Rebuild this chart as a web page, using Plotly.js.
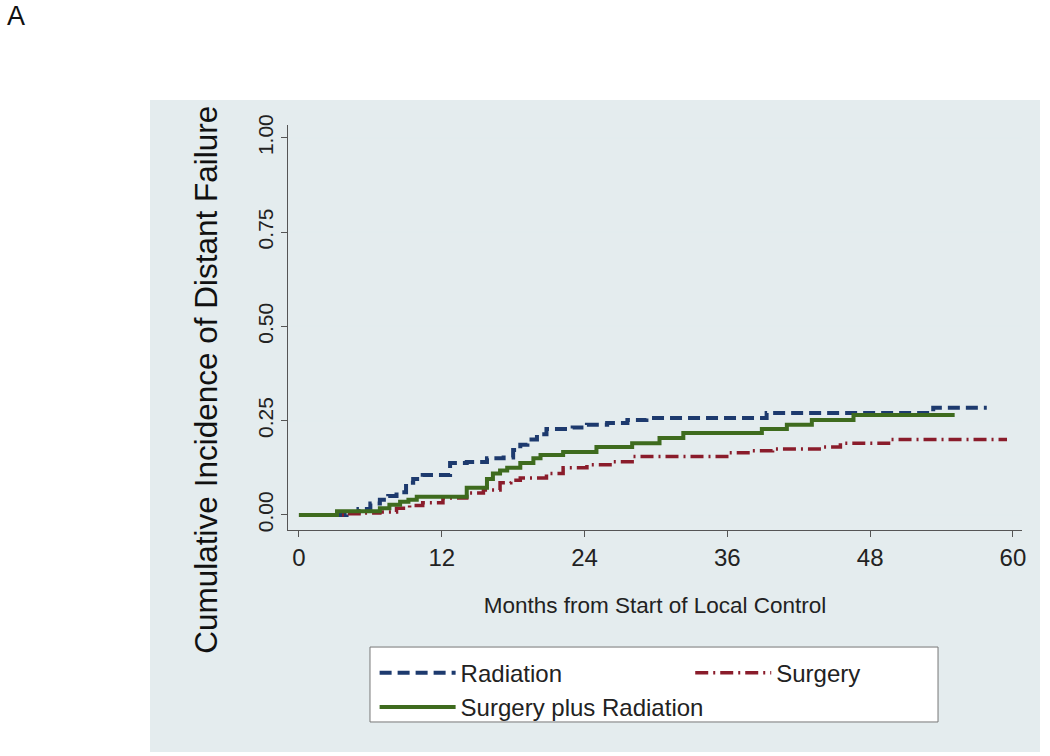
<!DOCTYPE html>
<html>
<head>
<meta charset="utf-8">
<script src="https://cdn.plot.ly/plotly-3.0.1.min.js"></script>
<style>
  body { margin: 0; background: #ffffff; }
  #grafico { width: 1050px; height: 756px; }
</style>
</head>
<body>
<div id="grafico"></div>
<script>
// months from start of local control (step times) and cumulative incidence
const radiacaoT = [0, 4, 5, 6, 6.8, 7.5, 8.2, 9, 9.6, 10.4, 12.7, 14.1, 15.8, 17.2, 18, 18.6, 19.2, 20, 20.8, 23, 24.2, 25.9, 27.6, 29.2, 39.3, 53.3, 57.8];
const radiacaoV = [0, 0.008, 0.016, 0.03, 0.04, 0.05, 0.06, 0.085, 0.095, 0.106, 0.138, 0.14, 0.15, 0.152, 0.172, 0.186, 0.2, 0.214, 0.228, 0.232, 0.239, 0.244, 0.252, 0.257, 0.27, 0.284, 0.284];

const cirurgiaT = [0, 4, 5.5, 6.8, 8.2, 9.3, 10.4, 12.1, 14.1, 15.5, 16.9, 17.8, 18.6, 20.8, 22.2, 24.2, 26.4, 28, 36.2, 37.9, 39.8, 44, 45.5, 49.7, 59.5];
const cirurgiaV = [0, 0.003, 0.005, 0.008, 0.018, 0.025, 0.032, 0.045, 0.058, 0.066, 0.085, 0.092, 0.098, 0.11, 0.125, 0.133, 0.141, 0.155, 0.165, 0.17, 0.175, 0.18, 0.19, 0.2, 0.2];

const combinadoT = [0, 3.2, 6.8, 7.6, 8.5, 9.2, 9.9, 14.1, 15.8, 16.3, 16.9, 17.5, 18.6, 19.7, 20.3, 22.2, 25, 28, 30.3, 32.3, 38.9, 41, 43.1, 46.6, 55.1];
const combinadoV = [0, 0.01, 0.018, 0.027, 0.035, 0.04, 0.048, 0.072, 0.095, 0.11, 0.118, 0.125, 0.138, 0.15, 0.159, 0.167, 0.18, 0.19, 0.204, 0.217, 0.228, 0.239, 0.252, 0.265, 0.265];

const xTicks = [0, 12, 24, 36, 48, 60];
const yTicks = [0, 0.25, 0.5, 0.75, 1];
const yTickText = ['0.00', '0.25', '0.50', '0.75', '1.00'];

const fonte = 'Liberation Sans, Arial, sans-serif';

const radiacao = {
  x: radiacaoT, y: radiacaoV,
  mode: 'lines', line: { shape: 'hv', color: '#1d3a6e', width: 4, dash: '12px,6px' },
  name: 'Radiation', legend: 'legend'
};
const cirurgia = {
  x: cirurgiaT, y: cirurgiaV,
  mode: 'lines', line: { shape: 'hv', color: '#8a1c2b', width: 3.5, dash: '13px,5px,2px,5px' },
  name: 'Surgery', legend: 'legend2'
};
const combinado = {
  x: combinadoT, y: combinadoV,
  mode: 'lines', line: { shape: 'hv', color: '#3e6b1e', width: 4 },
  name: 'Surgery plus Radiation', legend: 'legend'
};

const legendaBase = {
  orientation: 'v',
  xanchor: 'left',
  y: -0.298, yanchor: 'top',
  itemwidth: 76,
  bgcolor: 'rgba(0,0,0,0)',
  borderwidth: 0,
  tracegroupgap: 0,
  font: { size: 24, color: '#222222' }
};

const layout = {
  width: 1050,
  height: 756,
  margin: { l: 288, r: 28, t: 125, b: 226 },
  paper_bgcolor: '#ffffff',
  plot_bgcolor: '#ffffff',
  font: { family: fonte, color: '#222222' },
  xaxis: {
    range: [-0.92, 60.76],
    tickvals: xTicks,
    ticks: 'outside', ticklen: 6, tickcolor: '#555555',
    showline: true, linecolor: '#555555', linewidth: 1,
    showgrid: false, zeroline: false,
    tickfont: { size: 24, color: '#222222' },
    title: { text: 'Months from Start of Local Control', font: { size: 22.5, color: '#222222' }, standoff: 27 }
  },
  yaxis: {
    range: [-0.04, 1.034],
    tickvals: yTicks, ticktext: yTickText,
    tickangle: -90,
    ticks: 'outside', ticklen: 6, tickcolor: '#555555',
    showline: true, linecolor: '#555555', linewidth: 1,
    showgrid: true, gridcolor: '#e3ecee', gridwidth: 1.5,
    zeroline: false,
    tickfont: { size: 21, color: '#222222' }
  },
  showlegend: true,
  legend: Object.assign({}, legendaBase, { x: 0.118 }),
  legend2: Object.assign({}, legendaBase, { x: 0.548 }),
  shapes: [
    { type: 'rect', xref: 'paper', yref: 'paper', x0: -0.188, x1: 1.0245, y0: -0.548, y1: 1.0617,
      fillcolor: '#e4ecee', line: { width: 0 }, layer: 'below' },
    { type: 'rect', xref: 'paper', yref: 'paper', x0: 0.1117, x1: 0.8856, y0: -0.474, y1: -0.289,
      fillcolor: '#ffffff', line: { width: 1, color: '#777777' }, layer: 'below' }
  ],
  annotations: [
    { text: 'A', xref: 'paper', yref: 'paper', x: -0.385, y: 1.268, xanchor: 'left', yanchor: 'middle',
      showarrow: false, font: { size: 27, color: '#111111' } },
    { text: 'Cumulative Incidence of Distant Failure', xref: 'paper', yref: 'paper',
      x: -0.111, y: 0.37, xanchor: 'center', yanchor: 'middle', textangle: -90,
      showarrow: false, font: { size: 31.5, color: '#111111' } }
  ]
};

Plotly.newPlot('grafico', [radiacao, cirurgia, combinado], layout, { displayModeBar: false });
</script>
</body>
</html>
